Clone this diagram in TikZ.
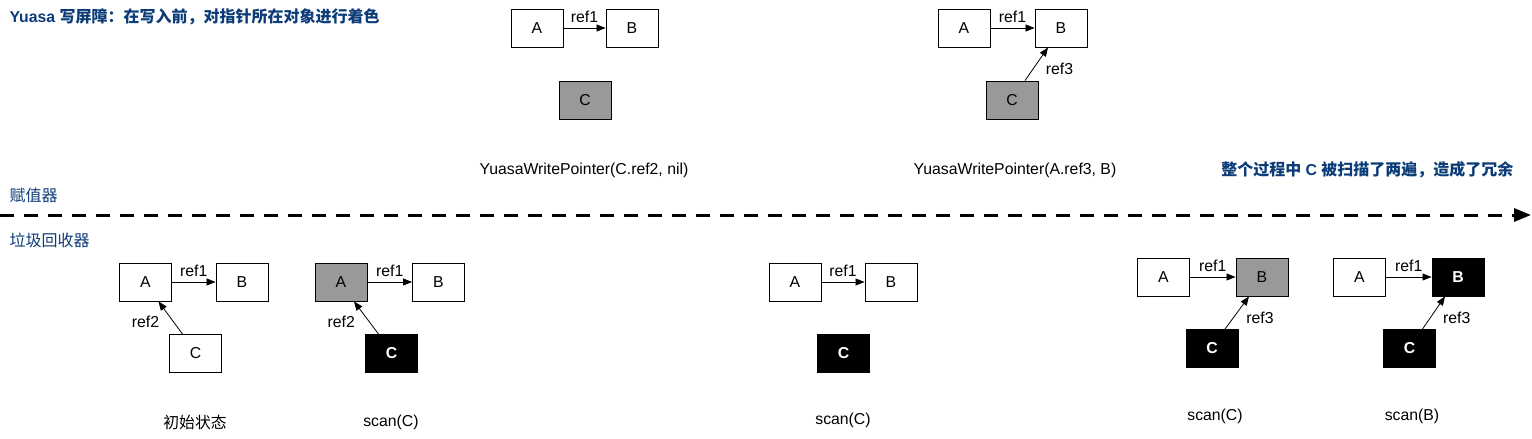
\documentclass[tikz,border=0pt]{standalone}
\usepackage{fontspec}
\setmainfont{Liberation Sans}
\newfontfamily\cjk{Noto Sans CJK SC}
\usetikzlibrary{arrows.meta, positioning, calc}

\definecolor{noteblue}{RGB}{12,60,120}
\definecolor{scangray}{RGB}{153,153,153}

\begin{document}
\begin{tikzpicture}[x=1pt, y=-1pt,
    font=\fontsize{15.8}{19}\selectfont,
    obj/.style={draw, line width=0.9pt, minimum width=52pt, minimum height=38pt, inner sep=0pt},
    grey/.style={obj, fill=scangray},
    black/.style={obj, fill=black, text=white},
    ptr/.style={-{Triangle[length=9pt, width=7pt]}, line width=0.8pt},
    lbl/.style={inner sep=1pt},
    note/.style={text=noteblue, anchor=west}]
    \useasboundingbox (0,0) rectangle (1532,439);

    % title and lanes
    \node[note] (title) at (6,17) {\bfseries Yuasa {\cjk\fontsize{16}{19}\selectfont 写屏障：在写入前，对指针所在对象进行着色}};
    \node[note] (mut) at (6,195) {\cjk\fontsize{16}{19}\selectfont 赋值器};
    \node[note] (gc) at (6,240) {\cjk\fontsize{16}{19}\selectfont 垃圾回收器};
    \node[text=noteblue, anchor=east] (sum) at (1517,170) {\bfseries{\cjk\fontsize{16}{19}\selectfont 整个过程中} C {\cjk\fontsize{16}{19}\selectfont 被扫描了两遍，造成了冗余}};
    \coordinate (tl0) at (0,215);
    \coordinate (tl1) at (1531,215);
    \draw[line width=3pt, dash pattern=on 14pt off 10pt, -{Triangle[length=17pt, width=13pt]}] (tl0) -- (tl1);

    % mutator: first write
    \node[obj] (ta1) at (537,28) {A};
    \node[obj] (tb1) at (632,28) {B};
    \node[grey] (tc1) at (585,100) {C};
    \draw[ptr] (ta1) -- node[above, lbl, yshift=4pt] {ref1} (tb1);
    \node (cap1) at (584,170) {YuasaWritePointer(C.ref2, nil)};

    % mutator: second write
    \node[obj] (ta2) at (964,28) {A};
    \node[obj] (tb2) at (1061,28) {B};
    \node[grey] (tc2) at (1012,100) {C};
    \draw[ptr] (ta2) -- node[above, lbl, yshift=4pt] {ref1} (tb2);
    \draw[ptr] ([xshift=13pt]tc2.north) -- node[right, lbl, xshift=8pt, yshift=-5pt] {ref3} ([xshift=-13pt]tb2.south);
    \node (cap2) at (1015,170) {YuasaWritePointer(A.ref3, B)};

    % collector: initial state
    \node[obj] (a1) at (145.5,282) {A};
    \node[obj] (b1) at (242,282) {B};
    \node[obj] (c1) at (195.5,353.5) {C};
    \draw[ptr] (a1) -- node[above, lbl, yshift=4pt] {ref1} (b1);
    \draw[ptr] ([xshift=-13pt]c1.north) -- node[left, lbl, xshift=-10pt, yshift=-4pt] {ref2} ([xshift=13pt]a1.south);
    \node (cap3) at (195,422) {\cjk 初始状态};

    % collector: scan(C)
    \node[grey] (a2) at (341,282) {A};
    \node[obj] (b2) at (438.5,282) {B};
    \node[black] (c2) at (391.5,353.5) {\bfseries C};
    \draw[ptr] (a2) -- node[above, lbl, yshift=4pt] {ref1} (b2);
    \draw[ptr] ([xshift=-13pt]c2.north) -- node[left, lbl, xshift=-10pt, yshift=-4pt] {ref2} ([xshift=13pt]a2.south);
    \node (cap4) at (391,422) {scan(C)};

    % collector: after first write
    \node[obj] (a3) at (795,282) {A};
    \node[obj] (b3) at (891,282) {B};
    \node[black] (c3) at (843.5,353.5) {\bfseries C};
    \draw[ptr] (a3) -- node[above, lbl, yshift=4pt] {ref1} (b3);
    \node (cap5) at (843,420) {scan(C)};

    % collector: scan(C) again
    \node[obj] (a4) at (1163.5,277) {A};
    \node[grey] (b4) at (1262,277) {B};
    \node[black] (c4) at (1212,348.5) {\bfseries C};
    \draw[ptr] (a4) -- node[above, lbl, yshift=4pt] {ref1} (b4);
    \draw[ptr] ([xshift=13pt]c4.north) -- node[right, lbl, xshift=8pt, yshift=-5pt] {ref3} ([xshift=-13pt]b4.south);
    \node (cap6) at (1215,416) {scan(C)};

    % collector: scan(B)
    \node[obj] (a5) at (1359.5,277) {A};
    \node[black] (b5) at (1458,277) {\bfseries B};
    \node[black] (c5) at (1409.5,348.5) {\bfseries C};
    \draw[ptr] (a5) -- node[above, lbl, yshift=4pt] {ref1} (b5);
    \draw[ptr] ([xshift=13pt]c5.north) -- node[right, lbl, xshift=8pt, yshift=-5pt] {ref3} ([xshift=-13pt]b5.south);
    \node (cap7) at (1412,416) {scan(B)};
\end{tikzpicture}
\end{document}
